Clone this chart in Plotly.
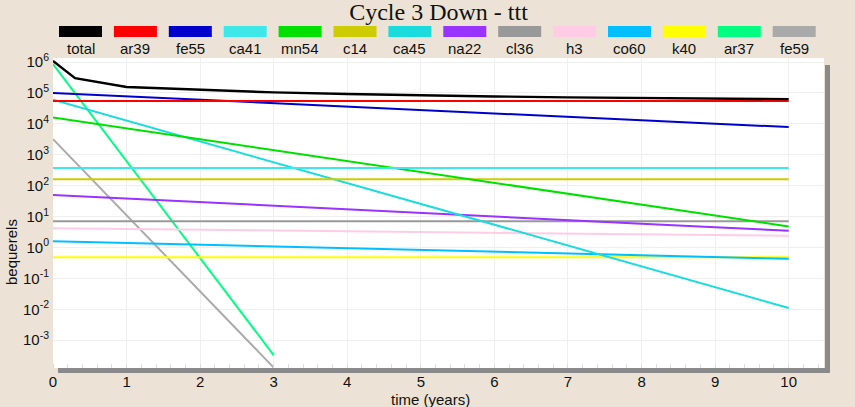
import plotly.graph_objects as go

# ---- data ----
years = [0, 1, 2, 3, 4, 5, 6, 7, 8, 9, 10]
years_short = [0, 1, 2, 3]
total_years = [0, 0.3, 1, 2, 3, 4, 5, 6, 7, 8, 9, 10]

total = [1.08e6, 3.0e5, 1.55e5, 1.24e5, 1.04e5, 9.2e4, 8.3e4, 7.7e4, 7.2e4, 6.8e4, 6.5e4, 6.3e4]
ar39 = [5.5e4] * 11
fe55 = [1.0e5, 7.8e4, 6.0e4, 4.7e4, 3.6e4, 2.8e4, 2.2e4, 1.7e4, 1.3e4, 1.0e4, 7.9e3]
ca41 = [370] * 11
mn54 = [1.6e4, 7.1e3, 3.2e3, 1.4e3, 620, 275, 122, 54, 24, 10.7, 4.8]
c14 = [160] * 11
ca45 = [6.0e4, 1.27e4, 2.7e3, 570, 121, 26, 5.4, 1.15, 0.244, 0.052, 0.011]
na22 = [50, 38, 29, 22.5, 17.2, 13.2, 10.1, 7.7, 5.9, 4.5, 3.5]
cl36 = [7.0] * 11
h3 = [4.2, 3.97, 3.75, 3.55, 3.35, 3.17, 3.0, 2.83, 2.68, 2.53, 2.39]
co60 = [1.6, 1.40, 1.23, 1.08, 0.947, 0.83, 0.73, 0.64, 0.56, 0.49, 0.43]
k40 = [0.48] * 11
ar37 = [8.5e5, 620, 0.45, 3.3e-4]
fe59 = [3.2e3, 10.9, 0.037, 1.3e-4]

names = ["total", "ar39", "fe55", "ca41", "mn54", "c14", "ca45", "na22",
         "cl36", "h3", "co60", "k40", "ar37", "fe59"]
series = {
    "total": (total_years, total), "ar39": (years, ar39), "fe55": (years, fe55),
    "ca41": (years, ca41), "mn54": (years, mn54), "c14": (years, c14),
    "ca45": (years, ca45), "na22": (years, na22), "cl36": (years, cl36),
    "h3": (years, h3), "co60": (years, co60), "k40": (years, k40),
    "ar37": (years_short, ar37), "fe59": (years_short, fe59),
}
colors = {
    "total": "#000000", "ar39": "#FF0000", "fe55": "#0000CC", "ca41": "#3FE8E8",
    "mn54": "#00E000", "c14": "#CCCC00", "ca45": "#1ADCDC", "na22": "#9933FF",
    "cl36": "#999999", "h3": "#FFCCE6", "co60": "#00BFFF", "k40": "#FFFF00",
    "ar37": "#00FF80", "fe59": "#AAAAAA",
}

x_ticks = list(range(0, 11))
y_exps = list(range(-3, 7))
y_ticktext = ["10<sup>%d</sup>" % e for e in y_exps]

W, H = 855, 407
L, R, T, B = 53, 824, 58, 368
pw, ph = R - L, B - T
bg = "#ECE3D6"

fig = go.Figure()
for n in reversed(names):
    xs, ys = series[n]
    fig.add_trace(go.Scatter(x=xs, y=ys, mode="lines", name=n,
                             line=dict(color=colors[n], width=2.4 if n == "total" else 2),
                             showlegend=False))

fig.update_layout(
    width=W, height=H,
    margin=dict(l=L, r=W - R, t=T, b=H - B, pad=0),
    paper_bgcolor=bg, plot_bgcolor="white",
    font=dict(family="Liberation Sans, Arial, sans-serif", size=15, color="#111111"),
    title=dict(text="Cycle 3 Down - ttt", x=0.5, xanchor="center", xref="paper",
               y=1 - 12 / H, yanchor="middle", yref="container",
               font=dict(family="Liberation Serif, Times New Roman, serif", size=24, color="#111111")),
)
fig.update_xaxes(range=[0, 10.48], tickvals=x_ticks, showgrid=True, gridcolor="#EFEFEF",
                 gridwidth=1, zeroline=False, showline=False, ticks="", ticklen=0,
                 tickfont=dict(size=15), automargin=False, ticklabelstandoff=3,
                 minor=dict(dtick=0.2, ticks="inside", ticklen=4, tickcolor="#DDDDDD", showgrid=False))
fig.update_yaxes(type="log", range=[-3.9, 6.13], tickvals=[10.0 ** e for e in y_exps],
                 ticktext=y_ticktext, showgrid=True, gridcolor="#EFEFEF", gridwidth=1,
                 zeroline=False, showline=False, ticks="", tickfont=dict(size=15),
                 automargin=False, ticklabelstandoff=3)

# axis titles
fig.add_annotation(text="time (years)", xref="paper", yref="paper",
                   x=(430 - L) / pw, y=-(399 - B) / ph, showarrow=False,
                   font=dict(size=15), xanchor="center", yanchor="middle")
fig.add_annotation(text="bequerels", xref="paper", yref="paper", textangle=-90,
                   x=-(L - 12) / pw, y=(B - 252) / ph, showarrow=False,
                   font=dict(size=15), xanchor="center", yanchor="middle")

# drop shadow of plot area
shadow = "#8A8A8A"
fig.add_shape(type="rect", xref="paper", yref="paper", line_width=0, fillcolor=shadow,
              x0=1 + 1 / pw, x1=1 + 6 / pw, y0=-5 / ph, y1=1 - 7 / ph)
fig.add_shape(type="rect", xref="paper", yref="paper", line_width=0, fillcolor=shadow,
              x0=5 / pw, x1=1 + 6 / pw, y0=-5 / ph, y1=0)

# custom legend: swatch above label
step = 54.9
for i, n in enumerate(names):
    x0 = 59 + i * step
    x1 = x0 + 43
    fig.add_shape(type="rect", xref="paper", yref="paper", line_width=0,
                  fillcolor=colors[n],
                  x0=(x0 - L) / pw, x1=(x1 - L) / pw,
                  y0=(B - 37) / ph, y1=(B - 26) / ph)
    fig.add_annotation(text=n, xref="paper", yref="paper", showarrow=False,
                       x=((x0 + x1) / 2 - L) / pw, y=(B - 48) / ph,
                       xanchor="center", yanchor="middle", font=dict(size=15))

post = ("document.body.style.margin='0';document.body.style.padding='0';"
        "document.body.style.overflow='hidden';document.body.style.background='%s';" % bg)
fig.write_html("out.html", post_script=post, config={"displayModeBar": False})
